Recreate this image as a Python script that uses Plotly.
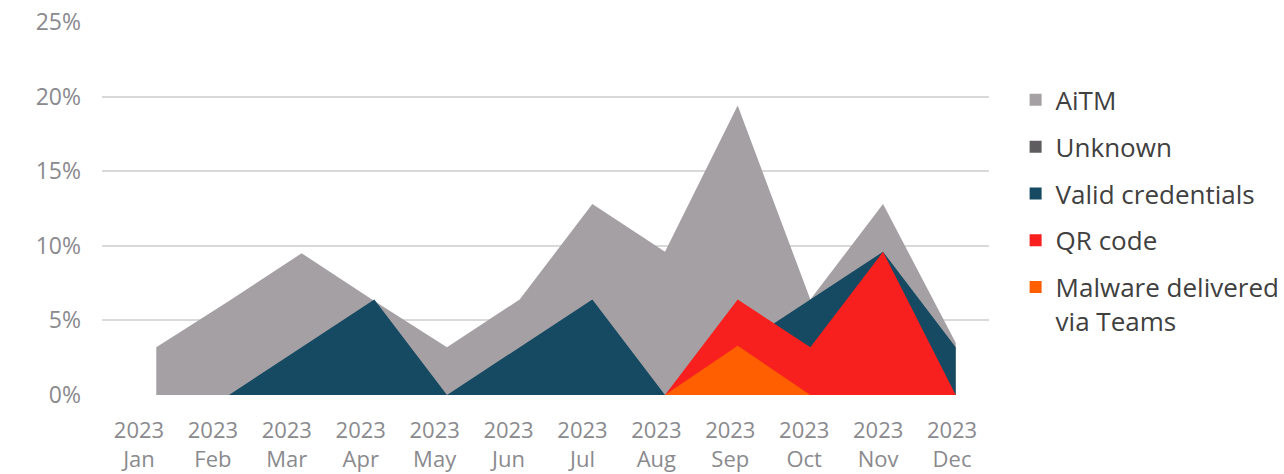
import plotly.graph_objects as go

# Monthly share of incidents by initial access method, 2023
YEAR = "2023"
MONTHS = ["Jan", "Feb", "Mar", "Apr", "May", "Jun",
          "Jul", "Aug", "Sep", "Oct", "Nov", "Dec"]

AITM = [3.2, 6.3, 9.5, 6.3, 3.2, 6.4, 12.8, 9.6, 19.4, 6.4, 12.8, 3.5]
UNKNOWN = [0, 0, 0, 0, 0, 0, 0, 0, 0, 0, 0, 0]
VALID_CREDENTIALS = [0, 0, 3.2, 6.4, 0, 3.2, 6.4, 0, 3.2, 6.4, 9.6, 3.2]
QR_CODE = [0, 0, 0, 0, 0, 0, 0, 0, 6.4, 3.2, 9.6, 0]
MALWARE_TEAMS = [0, 0, 0, 0, 0, 0, 0, 0, 3.3, 0, 0, 0]

SERIES = [
    ("AiTM", AITM, "#a5a0a3"),
    ("Unknown", UNKNOWN, "#5e5c5f"),
    ("Valid credentials", VALID_CREDENTIALS, "#154a62"),
    ("QR code", QR_CODE, "#f8201e"),
    ("Malware delivered<br>via Teams", MALWARE_TEAMS, "#ff5f00"),
]

FONT = "'Open Sans', 'Noto Sans', sans-serif"
AXIS_GREY = "#8a8a8e"
GRID = "#d9d9d9"

fig = go.Figure()

# Overlapping (unstacked) filled areas, drawn back to front
for name, values, color in SERIES:
    fig.add_trace(go.Scatter(
        x=MONTHS, y=values, xaxis="x", yaxis="y",
        mode="lines", line=dict(width=0, color=color),
        fill="tozeroy", fillcolor=color,
        showlegend=False, hoverinfo="x+y", name=name,
    ))

# Square legend swatches
for i, (name, values, color) in enumerate(SERIES):
    fig.add_trace(go.Scatter(
        x=[None], y=[None], xaxis="x2", yaxis="y",
        mode="markers", marker=dict(symbol="square", size=12, color=color),
        name=name, legendgroup=f"g{i}", showlegend=True,
    ))

fig.update_layout(
    width=1284, height=474,
    margin=dict(l=102, r=295, t=22, b=79, autoexpand=False),
    paper_bgcolor="white", plot_bgcolor="white",
    font=dict(family=FONT, size=22, color=AXIS_GREY),
    xaxis=dict(
        type="category", categoryorder="array", categoryarray=MONTHS,
        range=[-0.747, 11.458], visible=False, automargin=False,
    ),
    xaxis2=dict(
        overlaying="x", anchor="y", side="bottom",
        range=[-0.5, 11.5], tickmode="array",
        tickvals=list(range(len(MONTHS))),
        ticktext=[f"{YEAR}<br>{m}" for m in MONTHS],
        showgrid=False, zeroline=False, showline=False, ticks="",
        tickfont=dict(size=22, color=AXIS_GREY),
        ticklabelstandoff=20, automargin=False,
    ),
    yaxis=dict(
        range=[0, 25], dtick=5, ticksuffix="%",
        showgrid=True, gridcolor=GRID, gridwidth=1.5,
        zeroline=False, showline=False, ticks="",
        tickfont=dict(size=23, color=AXIS_GREY),
        ticklabelstandoff=20, automargin=False,
    ),
    legend=dict(
        x=1.03, xanchor="left", y=0.854, yanchor="top",
        font=dict(size=26, color="#404040"),
        tracegroupgap=10, itemsizing="constant", valign="top",
        bgcolor="rgba(0,0,0,0)",
    ),
)

fig.write_html("out.html")
